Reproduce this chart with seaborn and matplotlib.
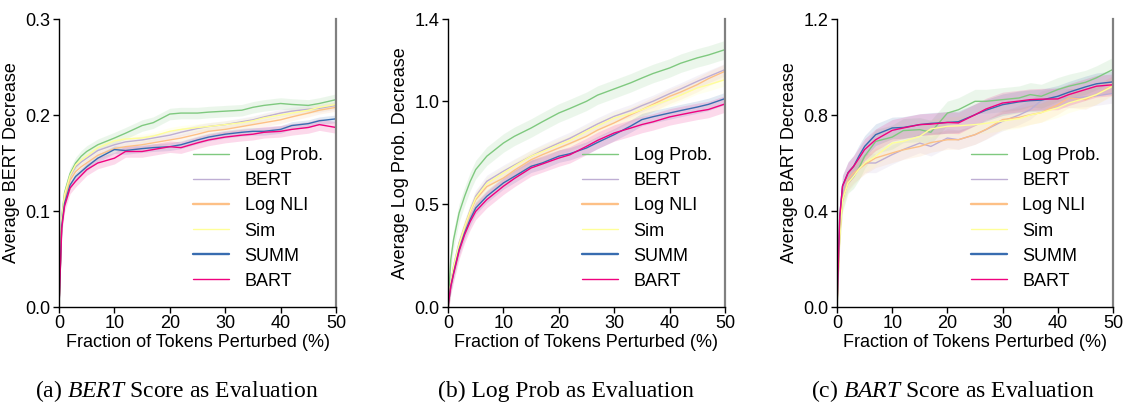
import numpy as np
import pandas as pd
import matplotlib
matplotlib.use("Agg")
import matplotlib.pyplot as plt
import seaborn as sns

# ---------------- data ----------------
methods = ["Log Prob.", "BERT", "Log NLI", "Sim", "SUMM", "BART"]
frac = [0, 0.5, 1, 2, 3, 4, 5, 7, 10, 12, 15, 17, 20, 22, 25, 27, 30, 33, 35, 37, 40, 42, 45, 47, 50]

bert_logprob = [0, 0.094, 0.119, 0.139, 0.150, 0.157, 0.162, 0.169, 0.176, 0.181, 0.189, 0.192, 0.201, 0.202, 0.202, 0.203, 0.204, 0.205, 0.208, 0.210, 0.212, 0.211, 0.210, 0.212, 0.216]
bert_bert = [0, 0.090, 0.116, 0.136, 0.146, 0.151, 0.155, 0.163, 0.169, 0.172, 0.174, 0.176, 0.179, 0.182, 0.186, 0.188, 0.190, 0.193, 0.195, 0.198, 0.202, 0.204, 0.206, 0.207, 0.210]
bert_lognli = [0, 0.088, 0.112, 0.132, 0.141, 0.146, 0.150, 0.158, 0.165, 0.167, 0.169, 0.171, 0.174, 0.176, 0.180, 0.183, 0.185, 0.188, 0.190, 0.192, 0.195, 0.198, 0.202, 0.205, 0.208]
bert_sim = [0, 0.092, 0.117, 0.137, 0.148, 0.153, 0.157, 0.166, 0.173, 0.175, 0.176, 0.178, 0.183, 0.185, 0.187, 0.188, 0.190, 0.192, 0.194, 0.197, 0.200, 0.202, 0.205, 0.208, 0.211]
bert_summ = [0, 0.085, 0.108, 0.127, 0.136, 0.141, 0.146, 0.155, 0.164, 0.163, 0.165, 0.166, 0.167, 0.169, 0.174, 0.177, 0.180, 0.182, 0.183, 0.183, 0.185, 0.189, 0.191, 0.194, 0.196]
bert_bart = [0, 0.082, 0.105, 0.124, 0.131, 0.137, 0.143, 0.150, 0.155, 0.162, 0.162, 0.164, 0.167, 0.166, 0.171, 0.174, 0.177, 0.179, 0.180, 0.182, 0.183, 0.185, 0.187, 0.190, 0.187]
bert_band = [0.006, 0.004, 0.004, 0.004, 0.004, 0.006]

lp_logprob = [0, 0.230, 0.327, 0.457, 0.538, 0.610, 0.668, 0.733, 0.797, 0.830, 0.870, 0.900, 0.943, 0.965, 1.000, 1.030, 1.060, 1.090, 1.113, 1.135, 1.162, 1.185, 1.211, 1.225, 1.251]
lp_bert = [0, 0.110, 0.198, 0.311, 0.392, 0.470, 0.538, 0.611, 0.660, 0.690, 0.733, 0.760, 0.797, 0.820, 0.862, 0.890, 0.927, 0.955, 0.979, 1.000, 1.037, 1.060, 1.097, 1.120, 1.154]
lp_lognli = [0, 0.110, 0.190, 0.300, 0.385, 0.460, 0.522, 0.585, 0.627, 0.665, 0.716, 0.740, 0.773, 0.795, 0.830, 0.860, 0.895, 0.935, 0.959, 0.985, 1.024, 1.045, 1.081, 1.110, 1.146]
lp_sim = [0, 0.110, 0.195, 0.305, 0.390, 0.465, 0.530, 0.600, 0.652, 0.685, 0.733, 0.755, 0.789, 0.810, 0.854, 0.880, 0.919, 0.940, 0.959, 0.980, 1.008, 1.030, 1.065, 1.080, 1.105]
lp_summ = [0, 0.100, 0.165, 0.279, 0.360, 0.425, 0.481, 0.538, 0.603, 0.635, 0.684, 0.700, 0.733, 0.745, 0.773, 0.800, 0.838, 0.880, 0.911, 0.925, 0.943, 0.955, 0.972, 0.985, 1.013]
lp_bart = [0, 0.100, 0.160, 0.272, 0.352, 0.415, 0.465, 0.522, 0.587, 0.625, 0.676, 0.695, 0.724, 0.740, 0.781, 0.810, 0.846, 0.870, 0.887, 0.900, 0.924, 0.935, 0.951, 0.960, 0.987]
lp_band = [0.045, 0.030, 0.035, 0.030, 0.030, 0.040]

bart_logprob = [0, 0.310, 0.447, 0.524, 0.544, 0.580, 0.628, 0.690, 0.708, 0.735, 0.739, 0.728, 0.808, 0.822, 0.857, 0.857, 0.864, 0.871, 0.885, 0.878, 0.906, 0.920, 0.936, 0.955, 0.990]
bart_bert = [0, 0.330, 0.475, 0.524, 0.551, 0.575, 0.600, 0.600, 0.635, 0.656, 0.683, 0.669, 0.704, 0.697, 0.718, 0.739, 0.774, 0.800, 0.822, 0.860, 0.875, 0.870, 0.875, 0.880, 0.890]
bart_lognli = [0, 0.300, 0.450, 0.531, 0.558, 0.575, 0.593, 0.621, 0.642, 0.655, 0.669, 0.685, 0.697, 0.697, 0.718, 0.740, 0.781, 0.790, 0.801, 0.810, 0.843, 0.871, 0.864, 0.885, 0.925]
bart_sim = [0, 0.290, 0.447, 0.517, 0.544, 0.575, 0.600, 0.628, 0.683, 0.690, 0.711, 0.742, 0.753, 0.755, 0.760, 0.765, 0.775, 0.785, 0.800, 0.810, 0.830, 0.850, 0.870, 0.885, 0.920]
bart_summ = [0, 0.380, 0.505, 0.560, 0.586, 0.630, 0.669, 0.718, 0.746, 0.748, 0.760, 0.765, 0.769, 0.772, 0.801, 0.820, 0.843, 0.855, 0.860, 0.862, 0.878, 0.895, 0.917, 0.930, 0.938]
bart_bart = [0, 0.378, 0.503, 0.558, 0.586, 0.620, 0.656, 0.697, 0.736, 0.746, 0.760, 0.762, 0.769, 0.767, 0.801, 0.825, 0.850, 0.858, 0.864, 0.866, 0.867, 0.885, 0.906, 0.920, 0.926]
bart_band = [0.050, 0.040, 0.040, 0.040, 0.045, 0.045]

ylabels = ["Average BERT Decrease", "Average Log Prob. Decrease", "Average BART Decrease"]
yticks = [[0.0, 0.1, 0.2, 0.3], [0.0, 0.5, 1.0, 1.4], [0.0, 0.4, 0.8, 1.2]]
xticks = [0, 10, 20, 30, 40, 50]
xlabel = "Fraction of Tokens Perturbed (%)"
captions = [r"(a) $\mathit{BERT}$ Score as Evaluation",
            "(b) Log Prob as Evaluation",
            r"(c) $\mathit{BART}$ Score as Evaluation"]

panels = [
    ([bert_logprob, bert_bert, bert_lognli, bert_sim, bert_summ, bert_bart], bert_band),
    ([lp_logprob, lp_bert, lp_lognli, lp_sim, lp_summ, lp_bart], lp_band),
    ([bart_logprob, bart_bert, bart_lognli, bart_sim, bart_summ, bart_bart], bart_band),
]

# ---------------- style ----------------
sns.set_theme(style="white")
plt.rcParams["font.family"] = ["Liberation Sans", "DejaVu Sans"]
plt.rcParams["text.color"] = "black"
plt.rcParams["axes.labelcolor"] = "black"
plt.rcParams["mathtext.fontset"] = "custom"
plt.rcParams["mathtext.rm"] = "Liberation Serif"
plt.rcParams["mathtext.it"] = "Liberation Serif:italic"

palette = sns.color_palette("Accent", 6)

fig = plt.figure(figsize=(11.27, 4.03), dpi=100)
lefts = [59, 448, 837]
widths = [277, 277, 276]
bottom_px, top_px = 307, 19
W, H = 1127, 403
cap_centers = [177, 566, 953]
FS = 13

for i, (series, band) in enumerate(panels):
    ax = fig.add_axes([lefts[i] / W, 1 - bottom_px / H, widths[i] / W, (bottom_px - top_px) / H])
    df = pd.concat([pd.DataFrame({"frac": frac, "val": s, "method": m})
                    for s, m in zip(series, methods)], ignore_index=True)
    for j, (s, m) in enumerate(zip(series, methods)):
        s = np.array(s)
        ax.fill_between(frac, s - band[j], s + band[j], color=palette[j], alpha=0.15, lw=0)
    sns.lineplot(data=df, x="frac", y="val", hue="method", hue_order=methods,
                 palette=palette, ax=ax, errorbar=None, lw=1.0, legend=False)
    ax.set_xlim(0, 50)
    ax.set_ylim(yticks[i][0], yticks[i][-1])
    ax.set_xticks(xticks)
    ax.set_yticks(yticks[i])
    ax.set_yticklabels([f"{t:.1f}" for t in yticks[i]])
    ax.tick_params(axis="both", direction="out", length=4, width=1, labelsize=FS,
                   colors="black", pad=2, left=True, bottom=True)
    ax.set_xlabel(xlabel, fontsize=FS, labelpad=1, color="black")
    ax.set_ylabel(ylabels[i], fontsize=FS, labelpad=4, color="black")
    for sp in ["left", "bottom"]:
        ax.spines[sp].set_color("black")
        ax.spines[sp].set_linewidth(1.0)
    ax.spines["top"].set_visible(False)
    ax.spines["right"].set_color("#808080")
    ax.spines["right"].set_linewidth(1.6)

    handles = [plt.Line2D([], [], color=palette[j], lw=(1.7 if methods[j] in ("Log NLI", "SUMM") else 1.0))
               for j in range(6)]
    ax.legend(handles, methods, loc="upper left", bbox_to_anchor=(0.484, 0.555),
              frameon=False, fontsize=FS, labelspacing=0.45, handlelength=2.0,
              handletextpad=0.85, borderpad=0, borderaxespad=0, labelcolor="black")

    fig.text(cap_centers[i] / W, 1 - 397 / H, captions[i], ha="center", va="baseline",
             fontsize=17, color="black", family=["Liberation Serif", "DejaVu Serif"])

fig.savefig("out.png", dpi=100)
